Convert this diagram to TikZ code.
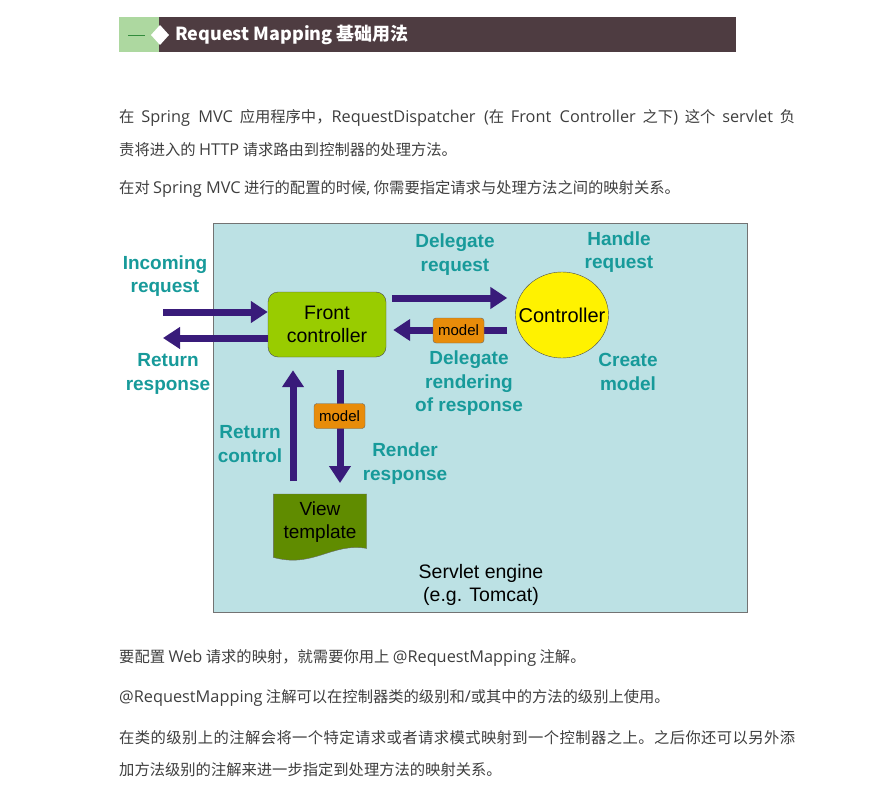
\documentclass[tikz,border=0pt]{standalone}
\usepackage{fontspec}
\setmainfont{Liberation Sans}
\newfontfamily\cjk{Noto Sans CJK SC}
\newfontfamily\lat{Open Sans}
\usetikzlibrary{arrows.meta,shapes.geometric}
\definecolor{headgreen}{RGB}{173,216,160}
\definecolor{headdark}{RGB}{78,60,65}
\definecolor{dashgreen}{RGB}{50,140,60}
\definecolor{bodytext}{RGB}{62,62,62}
\definecolor{panel}{RGB}{188,225,228}
\definecolor{purp}{RGB}{57,27,122}
\definecolor{tealc}{RGB}{23,154,154}
\definecolor{fcgreen}{RGB}{153,204,0}
\definecolor{viewgreen}{RGB}{96,140,0}
\definecolor{modelorange}{RGB}{232,140,10}
\def\spreadaux#1{\ifx\relax#1\else#1\hskip0pt plus 1fil\expandafter\spreadaux\fi}
\newcommand\spreadline[2]{\makebox[#1][s]{\spreadaux#2\relax\unskip}}
\newcommand\LT[1]{{\lat\fontsize{16.3}{18}\selectfont #1}}
\tikzset{
  body/.style={anchor=west, inner sep=0pt, text=bodytext, font=\cjk\fontsize{15.3}{18}\selectfont},
  lbl/.style={text=tealc, align=center, inner sep=0pt, font=\bfseries\fontsize{19}{23.5}\selectfont},
  parrow/.style={draw=purp, line width=7pt, -{Triangle[width=21pt,length=17pt]}},
  modelbox/.style={draw=black!60, fill=modelorange, rounded corners=3pt, minimum width=51pt, minimum height=25pt, inner sep=0pt, font=\fontsize{15}{17}\selectfont},
}
\begin{document}
\begin{tikzpicture}[x=1pt,y=-1pt]
\useasboundingbox (0,0) rectangle (891,786);
% header
\fill[headgreen] (119,17) rectangle (159,52);
\fill[headdark] (159,17) rectangle (736,52);
\draw[dashgreen, line width=1.5pt] (128,35.5) -- (145,35.5);
\fill[white] (160,25) -- (169,35) -- (160,45) -- (151,35) -- cycle;
\node[anchor=west, inner sep=0pt, text=white, font=\cjk\bfseries\fontsize{18}{21}\selectfont] (title) at (175,35) {Request Mapping 基础用法};
% top text
\node[body] (t1) at (119,118) {\makebox[676pt][s]{在 \LT{Spring MVC} 应用程序中，\LT{RequestDispatcher (}在 \LT{Front Controller} 之下\LT{)} 这个 \LT{servlet} 负}};
\node[body] (t2) at (119,150) {责将进入的 \LT{HTTP} 请求路由到控制器的处理方法。};
\node[body] (t3) at (119,189) {在对 \LT{Spring MVC} 进行的配置的时候\LT{,} 你需要指定请求与处理方法之间的映射关系。};
% diagram panel
\draw[draw=black!55, fill=panel, line width=0.8pt] (213,223) rectangle (747,612);
\node[draw=black!70, fill=fcgreen, rounded corners=10pt, minimum width=118pt, minimum height=65pt, align=center, inner sep=0pt, font=\fontsize{19.5}{23}\selectfont] (fc) at (327,324.5) {Front\\controller};
\node[ellipse, draw=black!70, fill=yellow, minimum width=93pt, minimum height=86pt, inner sep=0pt] (ctrl) at (562,315) {};
\node[inner sep=0pt, font=\fontsize{20}{24}\selectfont] (ctrltxt) at (ctrl.center) {Controller};
\node[minimum width=93pt, minimum height=66pt, anchor=north, inner sep=0pt] (view) at (320,494) {};
\draw[draw=black!60, fill=viewgreen] (view.north west) -- (view.north east) -- ([yshift=12pt]view.south east)
  .. controls ([xshift=-35pt,yshift=18pt]view.south east) and ([xshift=40pt,yshift=-8pt]view.south west) .. ([yshift=3pt]view.south west) -- cycle;
\node[align=center, inner sep=0pt, font=\fontsize{19}{23}\selectfont] (viewtxt) at (320,522) {View\\template};
% arrows
\coordinate (inL) at (163,312);
\draw[parrow] (inL) -- (inL -| fc.west);
\coordinate (retL) at (163,338);
\draw[parrow] (retL -| fc.west) -- (retL);
\coordinate (dr) at (392,298);
\draw[parrow, shorten <=6pt, shorten >=8pt] (fc.east |- dr) -- (dr -| ctrl.west);
\coordinate (mb) at (500,330);
\draw[parrow, shorten <=8pt, shorten >=7pt] (ctrl.west |- mb) -- (fc.east |- mb);
\node[modelbox] (m1) at (458.5,330.5) {model};
\coordinate (rc) at (293,420);
\draw[parrow, shorten <=13pt, shorten >=13pt] (view.north -| rc) -- (fc.south -| rc);
\coordinate (rr) at (340,420);
\draw[parrow, shorten <=13pt, shorten >=11pt] (fc.south -| rr) -- (view.north -| rr);
\node[modelbox] (m2) at (339.5,416) {model};
% labels
\node[lbl] (l1) at (165,276) {Incoming\\request};
\node[lbl] (l2) at (168,374) {Return\\response};
\node[lbl] (l3) at (455,254.5) {Delegate\\request};
\node[lbl] (l4) at (619,252) {Handle\\request};
\node[lbl] (l5) at (469,383.5) {Delegate\\rendering\\of response};
\node[lbl] (l6) at (628,372) {Create\\model};
\node[lbl] (l7) at (250,444) {Return\\control};
\node[lbl] (l8) at (405,463.5) {Render\\response};
\node[align=center, inner sep=0pt, font=\fontsize{19.5}{23}\selectfont] (se) at (481,584.5) {Servlet engine\\(e.g. Tomcat)};
% bottom text
\node[body] (b1) at (119,658) {要配置 \LT{Web} 请求的映射，就需要你用上 \LT{@RequestMapping} 注解。};
\node[body] (b2) at (119,698) {\LT{@RequestMapping} 注解可以在控制器类的级别和\LT{/}或其中的方法的级别上使用。};
\node[body] (b3) at (119,738) {\spreadline{676pt}{在类的级别上的注解会将一个特定请求或者请求模式映射到一个控制器之上。之后你还可以另外添}};
\node[body] (b4) at (119,770) {加方法级别的注解来进一步指定到处理方法的映射关系。};
\end{tikzpicture}
\end{document}
